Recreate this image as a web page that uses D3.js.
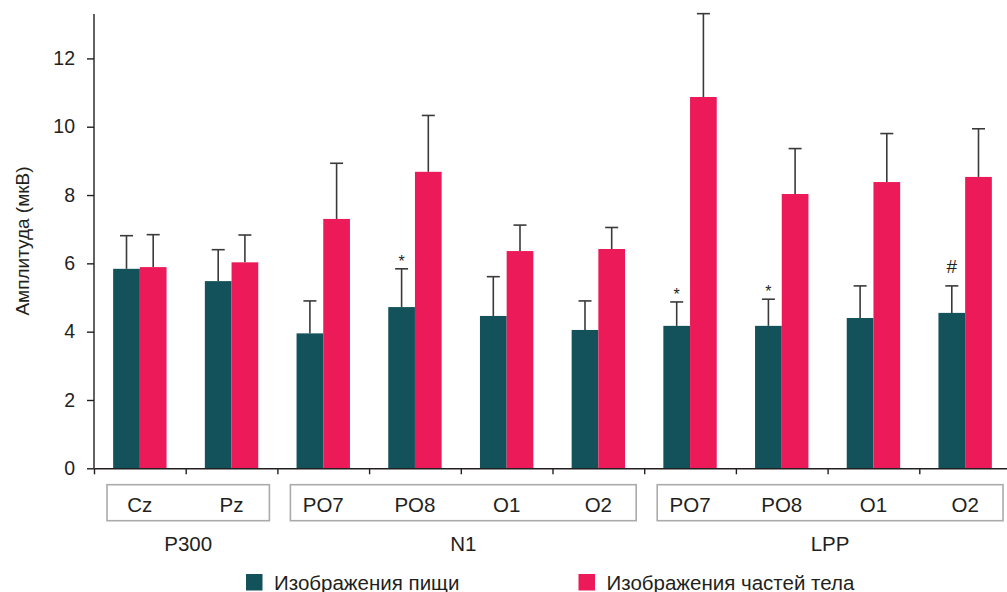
<!DOCTYPE html>
<html>
<head>
<meta charset="utf-8">
<script src="https://cdn.jsdelivr.net/npm/d3@7"></script>
<style>
  html, body { margin: 0; padding: 0; background: #fff; }
  svg { display: block; font-family: "Liberation Sans", Arial, sans-serif; }
</style>
</head>
<body>
<svg id="chart" width="1007" height="592"></svg>
<script>
// Electrode sites, in plotting order
const sites = ["Cz", "Pz", "PO7", "PO8", "O1", "O2", "PO7", "PO8", "O1", "O2"];
// ERP components and how many sites each spans
const components = ["P300", "N1", "LPP"];
const componentSpans = [2, 4, 4];

// Mean amplitudes (µV) and mean + SD (top of the error bar)
const foodMean = [5.84, 5.48, 3.95, 4.72, 4.46, 4.05, 4.17, 4.17, 4.40, 4.55];
const foodTop  = [6.81, 6.40, 4.90, 5.84, 5.61, 4.90, 4.87, 4.95, 5.34, 5.34];
const bodyMean = [5.89, 6.03, 7.30, 8.68, 6.36, 6.42, 10.87, 8.03, 8.38, 8.53];
const bodyTop  = [6.84, 6.83, 8.93, 10.33, 7.12, 7.05, 13.31, 9.36, 9.80, 9.94];

// Significance marks above the food bars
const marks = ["", "", "", "*", "", "", "*", "*", "", "#"];

const yTicks = [0, 2, 4, 6, 8, 10, 12];
const seriesNames = ["Изображения пищи", "Изображения частей тела"];
const colors = ["#13525a", "#ec1a58"];
const axisTitle = "Амплитуда (мкВ)";

const svg = d3.select("#chart");
const x0 = 94, yTop = 14, yBase = 468.3;
const slot = 91.7;
const labelSize = 20.5;

const x = d3.scaleBand().domain(d3.range(sites.length))
  .range([x0, x0 + slot * sites.length]).padding(0);
const xBound = d3.scaleLinear().domain([0, sites.length])
  .range([x0, x0 + slot * sites.length]);
const xs = d3.scaleBand().domain([0, 1]).range([19.15, slot - 19.15]).padding(0);
const y = d3.scaleLinear().domain([0, 13.3]).range([yBase, yTop]);

const textColor = "#231f20";

// Bars
const series = [
  { mean: foodMean, top: foodTop },
  { mean: bodyMean, top: bodyTop }
];

series.forEach((s, si) => {
  // error bars (drawn first so bars sit on top of the stems)
  const eg = svg.append("g").attr("stroke", "#3a3a3a").attr("stroke-width", 1.6);
  s.mean.forEach((v, i) => {
    const cx = x(i) + xs(si) + xs.bandwidth() / 2;
    eg.append("line").attr("x1", cx).attr("x2", cx)
      .attr("y1", y(v)).attr("y2", y(s.top[i]));
    eg.append("line").attr("x1", cx - 6.5).attr("x2", cx + 6.5)
      .attr("y1", y(s.top[i])).attr("y2", y(s.top[i]));
  });
  svg.append("g").selectAll("rect").data(s.mean).join("rect")
    .attr("x", (d, i) => x(i) + xs(si))
    .attr("width", xs.bandwidth())
    .attr("y", d => y(d))
    .attr("height", d => y(0) - y(d))
    .attr("fill", colors[si]);
});

// Significance marks
svg.append("g").selectAll("text").data(marks).join("text")
  .attr("x", (d, i) => x(i) + xs(0) + xs.bandwidth() / 2)
  .attr("y", (d, i) => y(foodTop[i]) - (d === "#" ? 13 : 2))
  .attr("text-anchor", "middle")
  .attr("font-size", d => d === "#" ? 19 : 16)
  .attr("fill", textColor)
  .text(d => d);

// Y axis
const yAxis = svg.append("g").attr("transform", `translate(${x0},0)`)
  .call(d3.axisLeft(y).tickValues(yTicks).tickSize(7).tickPadding(12).tickSizeOuter(0));
yAxis.select(".domain").remove();
yAxis.append("line").attr("x1", 0).attr("x2", 0).attr("y1", yTop).attr("y2", yBase)
  .attr("stroke", textColor).attr("stroke-width", 1.4);
yAxis.selectAll(".tick line").attr("stroke", textColor).attr("stroke-width", 1.4);
yAxis.selectAll(".tick text").attr("font-size", 19.5).attr("fill", textColor)
  .attr("font-family", "Liberation Sans, Arial, sans-serif");

// X axis with ticks on slot boundaries
const xAxis = svg.append("g").attr("transform", `translate(0,${yBase})`)
  .call(d3.axisBottom(xBound).tickValues(d3.range(sites.length)).tickSize(6).tickFormat(() => "").tickSizeOuter(0));
xAxis.select(".domain").attr("stroke", textColor).attr("stroke-width", 1.4);
xAxis.selectAll(".tick line").attr("stroke", textColor).attr("stroke-width", 1.4);

// Component boxes, site labels and component labels
let start = 0;
components.forEach((c, ci) => {
  const span = componentSpans[ci];
  const bx0 = xBound(start) + 13;
  const bx1 = xBound(start + span) - 8;
  svg.append("rect")
    .attr("x", bx0).attr("y", 484.7)
    .attr("width", bx1 - bx0).attr("height", 36)
    .attr("fill", "none").attr("stroke", "#ababab").attr("stroke-width", 1.6);
  svg.append("text")
    .attr("x", (bx0 + bx1) / 2).attr("y", 551)
    .attr("text-anchor", "middle").attr("font-size", labelSize).attr("fill", textColor)
    .text(c);
  start += span;
});

svg.append("g").selectAll("text").data(sites).join("text")
  .attr("x", (d, i) => x(i) + x.bandwidth() / 2)
  .attr("y", 511.5)
  .attr("text-anchor", "middle").attr("font-size", labelSize).attr("fill", textColor)
  .text(d => d);

// Y axis title
svg.append("text")
  .attr("transform", "translate(29,241) rotate(-90)")
  .attr("text-anchor", "middle").attr("font-size", 19).attr("fill", textColor)
  .text(axisTitle);

// Legend
const legendX = [246, 578.5];
seriesNames.forEach((n, i) => {
  const g = svg.append("g").attr("transform", `translate(${legendX[i]},574)`);
  g.append("rect").attr("width", 16.5).attr("height", 16.5).attr("fill", colors[i]);
  g.append("text").attr("x", 28).attr("y", 15.5).attr("font-size", labelSize).attr("fill", textColor).text(n);
});
</script>
</body>
</html>
